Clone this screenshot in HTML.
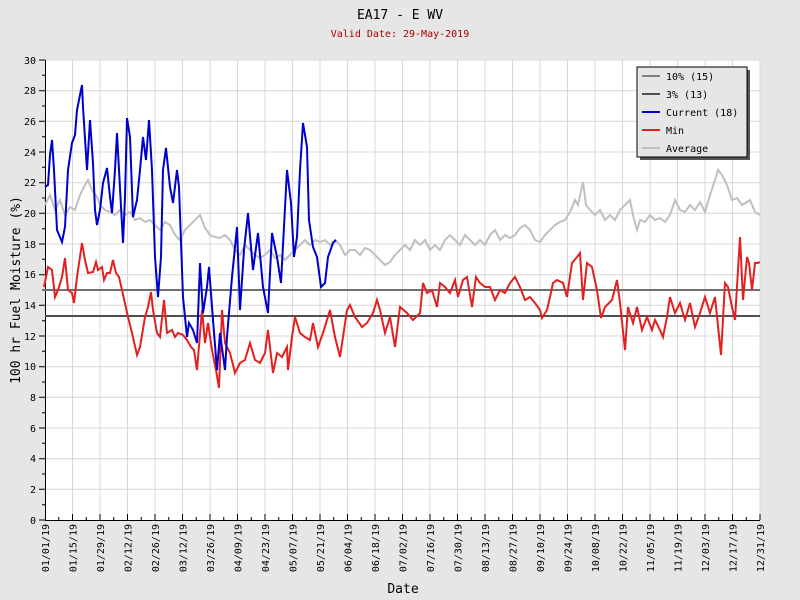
<!DOCTYPE html>
<html><head><meta charset="utf-8"><style>
html,body{margin:0;padding:0;background:#e6e6e6;}
svg{display:block;font-family:"DejaVu Sans Mono","Liberation Mono",monospace;}
</style></head><body>
<svg width="800" height="600" xmlns="http://www.w3.org/2000/svg">
<rect width="800" height="600" fill="#e6e6e6"/>
<text x="400" y="19" text-anchor="middle" font-size="13" fill="#000">EA17 - E WV</text>
<text x="400" y="37" text-anchor="middle" font-size="10" fill="#aa0000">Valid Date: 29-May-2019</text>
<rect x="45" y="60" width="715" height="460" fill="#fff"/>
<path stroke="#d8d8d8" stroke-width="1" fill="none" d="M72.5 60V520M100 60V520M127.5 60V520M155 60V520M182.5 60V520M210 60V520M237.5 60V520M265 60V520M292.5 60V520M320 60V520M347.5 60V520M375 60V520M402.5 60V520M430 60V520M457.5 60V520M485 60V520M512.5 60V520M540 60V520M567.5 60V520M595 60V520M622.5 60V520M650 60V520M677.5 60V520M705 60V520M732.5 60V520M760 60V520
M45 489.3H760M45 458.7H760M45 428H760M45 397.3H760M45 366.7H760M45 336H760M45 305.3H760M45 274.7H760M45 244H760M45 213.3H760M45 182.7H760M45 152H760M45 121.3H760M45 90.7H760M45 60H760"/>
<path stroke="#000" stroke-width="1" fill="none" d="M45.5 60V520.5H760
M72.5 520V514M100 520V514M127.5 520V514M155 520V514M182.5 520V514M210 520V514M237.5 520V514M265 520V514M292.5 520V514M320 520V514M347.5 520V514M375 520V514M402.5 520V514M430 520V514M457.5 520V514M485 520V514M512.5 520V514M540 520V514M567.5 520V514M595 520V514M622.5 520V514M650 520V514M677.5 520V514M705 520V514M732.5 520V514M760 520V514
M58.75 520V517M86.25 520V517M113.75 520V517M141.25 520V517M168.75 520V517M196.25 520V517M223.75 520V517M251.25 520V517M278.75 520V517M306.25 520V517M333.75 520V517M361.25 520V517M388.75 520V517M416.25 520V517M443.75 520V517M471.25 520V517M498.75 520V517M526.25 520V517M553.75 520V517M581.25 520V517M608.75 520V517M636.25 520V517M663.75 520V517M691.25 520V517M718.75 520V517M746.25 520V517
M39 520H45M39 489.3H45M39 458.7H45M39 428H45M39 397.3H45M39 366.7H45M39 336H45M39 305.3H45M39 274.7H45M39 244H45M39 213.3H45M39 182.7H45M39 152H45M39 121.3H45M39 90.7H45M39 60H45
M42 504.7H45M42 474H45M42 443.3H45M42 412.7H45M42 382H45M42 351.3H45M42 320.7H45M42 290H45M42 259.3H45M42 228.7H45M42 198H45M42 167.3H45M42 136.7H45M42 106H45M42 75.3H45"/>
<g font-size="10" fill="#000" text-anchor="end">
<text x="36" y="524">0</text><text x="36" y="493">2</text><text x="36" y="462">4</text><text x="36" y="432">6</text><text x="36" y="401">8</text><text x="36" y="370">10</text><text x="36" y="340">12</text><text x="36" y="309">14</text><text x="36" y="278">16</text><text x="36" y="248">18</text><text x="36" y="217">20</text><text x="36" y="186">22</text><text x="36" y="156">24</text><text x="36" y="125">26</text><text x="36" y="94">28</text><text x="36" y="64">30</text>
</g>
<g font-size="10" fill="#000" text-anchor="end">
<text transform="translate(49,524) rotate(-90)">01/01/19</text>
<text transform="translate(76.5,524) rotate(-90)">01/15/19</text>
<text transform="translate(104,524) rotate(-90)">01/29/19</text>
<text transform="translate(131.5,524) rotate(-90)">02/12/19</text>
<text transform="translate(159,524) rotate(-90)">02/26/19</text>
<text transform="translate(186.5,524) rotate(-90)">03/12/19</text>
<text transform="translate(214,524) rotate(-90)">03/26/19</text>
<text transform="translate(241.5,524) rotate(-90)">04/09/19</text>
<text transform="translate(269,524) rotate(-90)">04/23/19</text>
<text transform="translate(296.5,524) rotate(-90)">05/07/19</text>
<text transform="translate(324,524) rotate(-90)">05/21/19</text>
<text transform="translate(351.5,524) rotate(-90)">06/04/19</text>
<text transform="translate(379,524) rotate(-90)">06/18/19</text>
<text transform="translate(406.5,524) rotate(-90)">07/02/19</text>
<text transform="translate(434,524) rotate(-90)">07/16/19</text>
<text transform="translate(461.5,524) rotate(-90)">07/30/19</text>
<text transform="translate(489,524) rotate(-90)">08/13/19</text>
<text transform="translate(516.5,524) rotate(-90)">08/27/19</text>
<text transform="translate(544,524) rotate(-90)">09/10/19</text>
<text transform="translate(571.5,524) rotate(-90)">09/24/19</text>
<text transform="translate(599,524) rotate(-90)">10/08/19</text>
<text transform="translate(626.5,524) rotate(-90)">10/22/19</text>
<text transform="translate(654,524) rotate(-90)">11/05/19</text>
<text transform="translate(681.5,524) rotate(-90)">11/19/19</text>
<text transform="translate(709,524) rotate(-90)">12/03/19</text>
<text transform="translate(736.5,524) rotate(-90)">12/17/19</text>
<text transform="translate(764,524) rotate(-90)">12/31/19</text>
</g>
<line x1="45" y1="290" x2="760" y2="290" stroke="#707070" stroke-width="2"/>
<line x1="45" y1="316" x2="760" y2="316" stroke="#505050" stroke-width="2"/>
<polyline fill="none" stroke="#c0c0c0" stroke-width="2" points="45,205 50,195 55,210 60,200 65,215 70,207 75,210 80,195 85,185 88,180 92,190 97,197 100,205 105,210 110,212 115,215 120,210 125,215 130,212 135,220 140,218 145,222 150,220 155,225 160,230 165,222 170,225 175,235 180,240 185,230 190,225 195,220 200,215 205,228 210,235 215,237 220,238 225,235 230,240 235,250 240,255 245,245 250,250 255,255 260,258 265,255 270,250 275,258 280,255 285,260 290,255 295,250 300,245 305,240 310,245 315,240 320,242 325,240 330,245 335,240 340,245 345,255 350,250 355,250 360,255 365,248 370,250 375,255 380,260 385,265 390,262 395,255 400,250 405,245 410,250 415,240 420,245 425,240 430,250 435,245 440,250 445,240 450,235 455,240 460,245 465,235 470,240 475,245 480,240 485,245 490,235 495,230 500,240 505,235 510,238 515,235 520,228 525,225 530,230 535,240 540,242 545,235 550,230 555,225 560,222 565,220 570,212 575,200 578,205 583,182 586,205 590,210 595,215 600,210 605,220 610,215 615,220 620,210 625,205 630,200 633,215 637,230 640,220 645,222 650,215 655,220 660,218 665,222 670,215 675,200 680,210 685,212 690,205 695,210 700,202 705,212 710,195 715,180 718,170 722,175 727,185 732,200 737,198 742,205 747,202 750,200 755,212 760,215"/>
<polyline fill="none" stroke="#e32020" stroke-width="2" points="44,287 48,267 52,270 55,297 58,290 62,277 65,258 68,290 72,293 74,303 77,277 82,243 85,260 88,273 93,272 96,262 98,270 102,267 104,280 107,273 110,273 113,260 116,273 119,277 122,290 128,317 132,333 137,355 140,347 145,317 148,307 151,292 153,310 157,333 160,337 164,300 167,333 172,330 175,337 178,333 183,335 187,340 191,347 194,350 197,370 202,310 205,343 208,323 212,350 216,370 219,388 222,310 225,343 230,353 235,373 240,363 245,360 250,343 255,360 260,363 265,353 268,330 273,373 277,353 282,357 287,347 288,370 292,337 295,317 300,333 305,337 310,340 313,323 318,347 323,333 330,310 335,337 340,357 343,337 347,310 350,305 355,317 362,327 367,323 373,313 377,300 380,310 385,333 390,317 395,347 400,307 407,313 413,320 420,313 423,283 427,293 432,290 437,307 440,283 445,287 450,293 455,280 458,297 463,280 467,277 472,307 476,277 480,283 485,287 490,287 495,300 500,290 505,293 510,283 515,277 520,287 525,300 530,297 535,303 540,310 542,318 547,310 550,297 553,283 557,280 563,283 567,297 572,263 577,257 580,253 583,300 587,263 592,267 597,290 601,318 605,307 612,300 617,280 620,303 625,350 628,307 633,323 637,307 642,330 647,317 652,330 655,320 660,330 663,337 667,317 670,297 675,313 680,303 685,320 690,303 695,327 700,313 705,297 710,313 715,297 721,355 725,283 728,287 732,307 735,320 738,270 740,237 743,300 747,257 749,263 752,290 755,263 758,263 760,262"/>
<polyline fill="none" stroke="#0000cc" stroke-width="2" points="45,187 48,185 50,155 52,140 54,170 57,230 62,242 65,227 68,170 72,143 75,135 77,110 82,85 83,107 87,170 90,120 93,163 95,210 97,225 100,210 103,183 107,168 110,197 112,213 115,170 117,133 119,170 123,243 125,197 127,118 130,137 133,217 137,200 140,170 143,137 146,160 149,120 152,170 155,257 158,297 161,257 163,170 166,148 170,187 173,203 177,170 179,187 183,297 187,337 189,323 193,330 197,343 200,263 203,313 207,287 209,267 213,320 217,370 220,333 225,370 227,337 232,277 237,227 240,310 244,250 248,213 253,270 258,233 263,287 268,313 272,233 277,257 281,283 287,170 291,203 294,257 297,237 300,170 303,123 307,147 309,220 313,247 317,257 321,287 325,283 328,257 333,243 336,240"/>
<rect x="640" y="70" width="110" height="90" fill="#555"/>
<rect x="637" y="67" width="110" height="90" fill="#e6e6e6" stroke="#000" stroke-width="1"/>
<g font-size="10" fill="#000">
<line x1="642" y1="76" x2="660" y2="76" stroke="#808080" stroke-width="2"/><text x="666" y="80">10% (15)</text>
<line x1="642" y1="94" x2="660" y2="94" stroke="#505050" stroke-width="2"/><text x="666" y="98">3% (13)</text>
<line x1="642" y1="112" x2="660" y2="112" stroke="#0000cc" stroke-width="2"/><text x="666" y="116">Current (18)</text>
<line x1="642" y1="130" x2="660" y2="130" stroke="#e32020" stroke-width="2"/><text x="666" y="134">Min</text>
<line x1="642" y1="148" x2="660" y2="148" stroke="#c0c0c0" stroke-width="2"/><text x="666" y="152">Average</text>
</g>
<text x="403" y="593" text-anchor="middle" font-size="13" fill="#000">Date</text>
<text transform="translate(20,290) rotate(-90)" text-anchor="middle" font-size="13" fill="#000">100 hr Fuel Moisture (%)</text>
</svg>
</body></html>
